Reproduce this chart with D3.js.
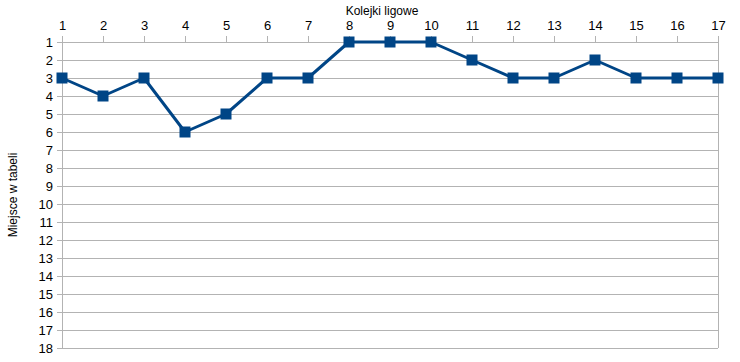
<!DOCTYPE html>
<html>
<head>
<meta charset="utf-8">
<script src="https://cdn.jsdelivr.net/npm/d3@7"></script>
<style>
  body { margin: 0; background: #fff; }
  text { font-family: "Liberation Sans", Arial, sans-serif; }
</style>
</head>
<body>
<div id="chart"></div>
<script>
const rounds = d3.range(1, 18);
const places = [3, 4, 3, 6, 5, 3, 3, 1, 1, 1, 2, 3, 3, 2, 3, 3, 3];
const placeTicks = d3.range(1, 19);

const totalWidth = 740;
const totalHeight = 362;
const margin = { top: 42, right: 22, bottom: 14, left: 62 };
const width = totalWidth - margin.left - margin.right;
const height = totalHeight - margin.top - margin.bottom;

const gridColour = '#b3b3b3';
const lineColour = '#004586';

const svg = d3.select('#chart')
    .append('svg')
    .attr('width', totalWidth)
    .attr('height', totalHeight);

const g = svg.append('g')
    .attr('transform', 'translate(' + margin.left + ',' + margin.top + ')');

const x = d3.scaleLinear().domain([1, 17]).range([0, width]);
const y = d3.scaleLinear().domain([1, 18]).range([0, height]);

// horizontal grid
g.append('g')
    .selectAll('line')
    .data(placeTicks)
    .join('line')
    .attr('x1', 0)
    .attr('x2', width)
    .attr('y1', (d) => y(d) + 0.5)
    .attr('y2', (d) => y(d) + 0.5)
    .attr('stroke', gridColour);

// right border
g.append('line')
    .attr('x1', width + 0.5).attr('x2', width + 0.5)
    .attr('y1', 0).attr('y2', height)
    .attr('stroke', gridColour);

const xAxis = g.append('g')
    .call(d3.axisTop(x).tickValues(rounds).tickFormat(d3.format('d')).tickSize(6).tickSizeOuter(0).tickPadding(6));
xAxis.select('.domain').remove();
xAxis.selectAll('line').attr('stroke', gridColour);
xAxis.selectAll('text').attr('fill', '#000').attr('font-size', 13);

const yAxis = g.append('g')
    .call(d3.axisLeft(y).tickValues(placeTicks).tickFormat(d3.format('d')).tickSize(5).tickSizeOuter(0).tickPadding(4));
yAxis.select('.domain').attr('stroke', gridColour);
yAxis.selectAll('line').attr('stroke', gridColour);
yAxis.selectAll('text').attr('fill', '#000').attr('font-size', 13);

svg.append('text')
    .attr('x', 382)
    .attr('y', 15)
    .attr('text-anchor', 'middle')
    .attr('font-size', 12)
    .text('Kolejki ligowe');

svg.append('text')
    .attr('transform', 'translate(17,' + (margin.top + height / 2) + ') rotate(-90)')
    .attr('text-anchor', 'middle')
    .attr('font-size', 12)
    .text('Miejsce w tabeli');

const data = rounds.map((r, i) => ({ round: r, place: places[i] }));

g.append('path')
    .datum(data)
    .attr('fill', 'none')
    .attr('stroke', lineColour)
    .attr('stroke-width', 3)
    .attr('stroke-linejoin', 'round')
    .attr('d', d3.line().x((d) => x(d.round)).y((d) => y(d.place)));

const markerSize = 11;
g.append('g')
    .selectAll('rect')
    .data(data)
    .join('rect')
    .attr('x', (d) => x(d.round) - markerSize / 2)
    .attr('y', (d) => y(d.place) - markerSize / 2)
    .attr('width', markerSize)
    .attr('height', markerSize)
    .attr('fill', lineColour);
</script>
</body>
</html>
